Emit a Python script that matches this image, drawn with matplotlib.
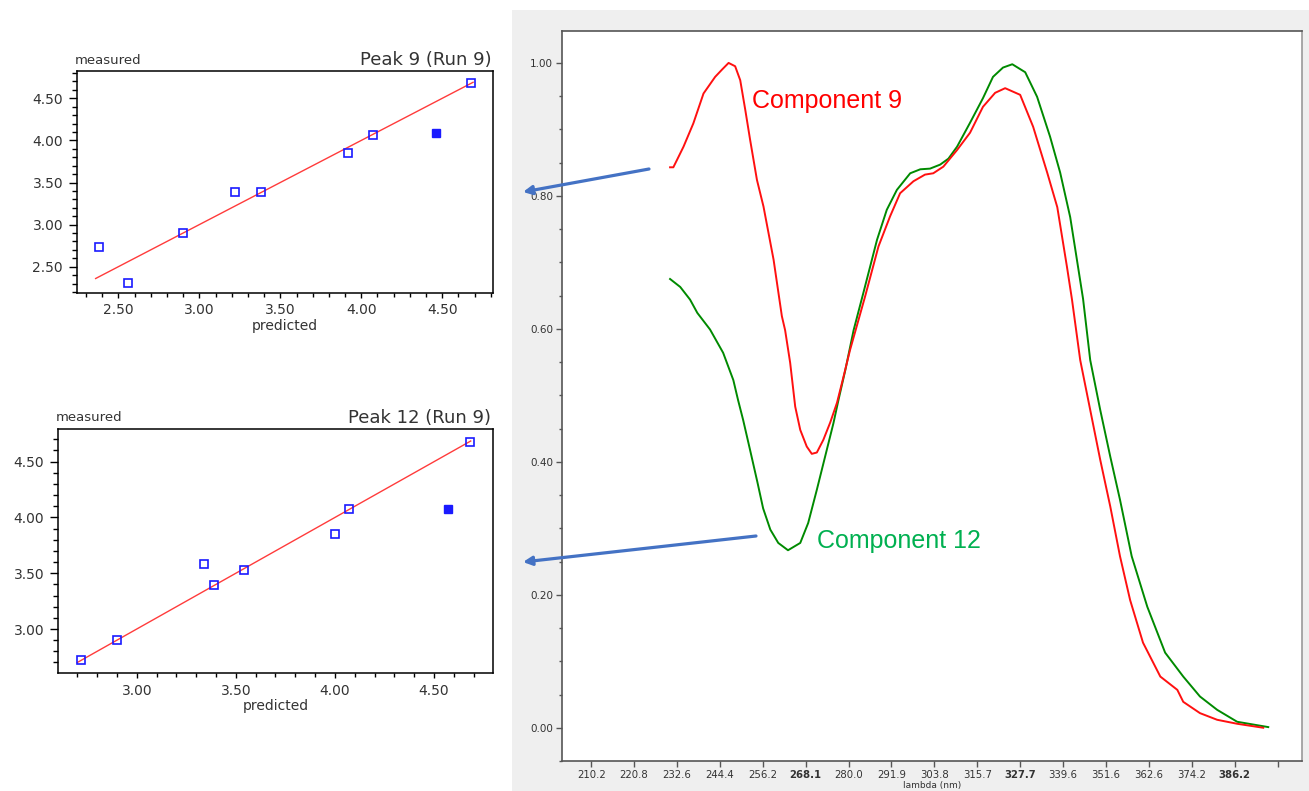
import numpy as np
import matplotlib
matplotlib.use('Agg')
import matplotlib.pyplot as plt
from matplotlib.patches import Rectangle
from matplotlib.ticker import MultipleLocator, FormatStrFormatter

# --- data -------------------------------------------------------------
# Peak 9 (Run 9): predicted vs measured
peak9_pred = [2.38, 2.56, 2.90, 3.22, 3.38, 3.92, 4.07, 4.68]
peak9_meas = [2.73, 2.31, 2.90, 3.39, 3.39, 3.85, 4.07, 4.68]
peak9_excl = [4.46, 4.09]          # excluded run (filled square)
peak9_line = [2.36, 4.69]          # y = x line

# Peak 12 (Run 9)
peak12_pred = [2.72, 2.90, 3.34, 3.39, 3.54, 4.00, 4.07, 4.68]
peak12_meas = [2.72, 2.90, 3.58, 3.39, 3.53, 3.85, 4.08, 4.68]
peak12_excl = [4.57, 4.08]
peak12_line = [2.70, 4.685]

# UV spectra, lambda (nm) vs normalised absorbance
comp9_wl = [230.7, 231.6, 232.6, 234.4, 237.1, 239.9, 243.1, 245.0, 246.8, 248.6,
            250.0, 251.4, 252.7, 254.6, 256.4, 259.2, 261.5, 262.4, 263.8, 265.2,
            266.6, 268.4, 269.8, 271.2, 273.0, 274.9, 276.8, 278.6, 280.4, 284.6,
            288.3, 291.5, 294.3, 298.0, 301.2, 303.5, 306.3, 310.1, 313.7, 317.3,
            320.7, 323.5, 327.7, 331.3, 335.2, 338.0, 340.7, 342.1, 344.4, 347.2,
            350.0, 352.7, 355.2, 357.8, 361.1, 365.7, 370.3, 371.9, 376.5, 381.3,
            386.9, 394.2]
comp9_abs = [0.843, 0.843, 0.854, 0.874, 0.909, 0.954, 0.979, 0.990, 1.000, 0.995,
             0.974, 0.929, 0.885, 0.824, 0.784, 0.704, 0.619, 0.598, 0.549, 0.483,
             0.448, 0.423, 0.412, 0.414, 0.433, 0.459, 0.489, 0.528, 0.568, 0.649,
             0.724, 0.769, 0.804, 0.822, 0.832, 0.834, 0.844, 0.869, 0.895, 0.934,
             0.955, 0.962, 0.952, 0.904, 0.835, 0.783, 0.693, 0.644, 0.553, 0.478,
             0.403, 0.333, 0.258, 0.192, 0.128, 0.077, 0.057, 0.039, 0.022, 0.012,
             0.006, 0.000]

comp12_wl = [230.7, 233.5, 236.2, 238.2, 241.7, 245.3, 248.1, 249.4, 250.8, 252.7,
             254.7, 256.3, 258.3, 260.5, 263.2, 266.6, 268.8, 271.2, 273.5, 275.8,
             277.2, 279.1, 281.4, 284.1, 287.9, 290.6, 293.4, 297.1, 299.9, 302.6,
             305.4, 307.7, 310.1, 313.7, 317.3, 320.1, 322.9, 325.5, 329.1, 332.4,
             336.0, 338.8, 341.6, 343.3, 345.2, 347.2, 350.0, 352.7, 355.2, 358.2,
             362.2, 367.0, 371.9, 376.5, 381.3, 386.9, 395.6]
comp12_abs = [0.675, 0.663, 0.644, 0.624, 0.599, 0.564, 0.523, 0.493, 0.463, 0.418,
              0.370, 0.330, 0.298, 0.278, 0.267, 0.278, 0.308, 0.358, 0.408, 0.458,
              0.493, 0.538, 0.598, 0.654, 0.734, 0.779, 0.809, 0.834, 0.840, 0.841,
              0.847, 0.856, 0.874, 0.910, 0.947, 0.979, 0.993, 0.998, 0.986, 0.949,
              0.889, 0.835, 0.768, 0.710, 0.645, 0.553, 0.478, 0.408, 0.343, 0.258,
              0.182, 0.113, 0.077, 0.047, 0.027, 0.009, 0.001]

# tick labels of the wavelength axis (evenly spaced on screen)
lambda_ticks = [210.2, 220.8, 232.6, 244.4, 256.2, 268.1, 280.0, 291.9, 303.8,
                315.7, 327.7, 339.6, 351.6, 362.6, 374.2, 386.2]
bold_ticks = [268.1, 327.7, 386.2]

W, H = 1309, 791
fig = plt.figure(figsize=(W / 100, H / 100), dpi=100, facecolor='white')
plt.rcParams['font.family'] = ['DejaVu Sans']

txt_col = '#333333'
blue = '#1a1aff'


def scatter_panel(rect, pred, meas, excl, line, title, xlim, ylim):
    ax = fig.add_axes(rect)
    ax.plot(line, line, color='#ff3b3b', lw=1.0, zorder=2)
    ax.plot(pred, meas, 's', ms=6.3, mfc='none', mec=blue, mew=1.2, zorder=3)
    ax.plot(excl[0], excl[1], 's', ms=6.3, mfc=blue, mec=blue, zorder=3)
    ax.set_xlim(xlim)
    ax.set_ylim(ylim)
    ax.xaxis.set_major_locator(MultipleLocator(0.5))
    ax.xaxis.set_minor_locator(MultipleLocator(0.1))
    ax.yaxis.set_major_locator(MultipleLocator(0.5))
    ax.yaxis.set_minor_locator(MultipleLocator(0.1))
    ax.xaxis.set_major_formatter(FormatStrFormatter('%.2f'))
    ax.yaxis.set_major_formatter(FormatStrFormatter('%.2f'))
    ax.tick_params(axis='y', which='major', length=6, width=1, pad=4, labelsize=10,
                   labelcolor=txt_col)
    ax.tick_params(axis='y', which='minor', length=3.5, width=1)
    ax.tick_params(axis='x', which='major', length=3.5, width=1, pad=4, labelsize=10,
                   labelcolor=txt_col)
    ax.tick_params(axis='x', which='minor', length=3, width=1)
    for s in ax.spines.values():
        s.set_linewidth(1.1)
    ax.text(-0.005, 1.02, 'measured', transform=ax.transAxes, ha='left', va='bottom',
            fontsize=9.5, color=txt_col)
    ax.text(0.997, 1.01, title, transform=ax.transAxes, ha='right', va='bottom',
            fontsize=13, color=txt_col)
    ax.set_xlabel('predicted', fontsize=10, color=txt_col, labelpad=1)
    return ax


scatter_panel([77 / W, 1 - 293 / H, 416 / W, 222 / H],
              peak9_pred, peak9_meas, peak9_excl, peak9_line,
              'Peak 9 (Run 9)', (2.245, 4.813), (2.188, 4.824))
scatter_panel([58.3 / W, 1 - 673.3 / H, 434.4 / W, 244 / H],
              peak12_pred, peak12_meas, peak12_excl, peak12_line,
              'Peak 12 (Run 9)', (2.604, 4.796), (2.603, 4.790))

# grey window behind the spectrum chart
fig.add_artist(Rectangle((512 / W, 0), 1 - 512 / W, 1 - 10 / H,
                         transform=fig.transFigure, facecolor='#efefef',
                         edgecolor='none', zorder=0))

ax = fig.add_axes([562 / W, 1 - 761 / H, 740 / W, 730 / H])
ax.set_facecolor('white')

# wavelength axis: tick labels evenly spaced -> piecewise linear scale
k = np.array(lambda_ticks)
pos = np.arange(len(k), dtype=float)
k_ext = np.r_[k[0] - 50 * (k[1] - k[0]), k, k[-1] + 50 * (k[-1] - k[-2])]
p_ext = np.r_[-50.0, pos, pos[-1] + 50.0]


def fwd(w):
    return np.interp(w, k_ext, p_ext)


def inv(q):
    return np.interp(q, p_ext, k_ext)


ax.set_xscale('function', functions=(fwd, inv))

ax.plot(comp12_wl, comp12_abs, color='#008a00', lw=1.4)
ax.plot(comp9_wl, comp9_abs, color='#ff1010', lw=1.4)

extra_tick = k[-1] + (k[-1] - k[-2])
ax.set_xlim(inv(-0.68), inv(16.57))
ax.set_ylim(-0.05, 1.048)
ax.set_xticks(list(lambda_ticks) + [extra_tick])
ax.set_xticklabels(['%.1f' % t for t in lambda_ticks] + [''])
for lab, t in zip(ax.get_xticklabels(), lambda_ticks):
    if t in bold_ticks:
        lab.set_fontweight('bold')
ax.xaxis.set_minor_locator(plt.NullLocator())
ax.yaxis.set_major_locator(MultipleLocator(0.2))
ax.yaxis.set_minor_locator(MultipleLocator(0.05))
ax.yaxis.set_major_formatter(FormatStrFormatter('%.2f'))
ax.tick_params(axis='x', which='major', length=4.3, width=1, pad=2.5, labelsize=7.3,
               labelcolor=txt_col, color='#555555')
ax.tick_params(axis='y', which='major', length=4, width=1, pad=2.5, labelsize=7.5,
               labelcolor=txt_col, color='#555555')
ax.tick_params(axis='y', which='minor', length=2.4, width=1, color='#555555')
for name, s in ax.spines.items():
    s.set_color('#555555')
    s.set_linewidth(1.2)
ax.spines['right'].set_color('#999999')
ax.set_xlabel('lambda (nm)', fontsize=6.5, color=txt_col, labelpad=0.5)

fig.text(752 / W, 1 - 101 / H, 'Component 9', color='#ff0000', fontsize=18,
         family='Liberation Sans', ha='left', va='center')
fig.text(817 / W, 1 - 541 / H, 'Component 12', color='#00b050', fontsize=18,
         family='Liberation Sans', ha='left', va='center')

arrow_style = dict(arrowstyle='-|>', color='#4472c4', lw=2.3, mutation_scale=13,
                   shrinkA=0, shrinkB=0)
ax.annotate('', xy=(523 / W, 1 - 192 / H), xytext=(649 / W, 1 - 169 / H),
            xycoords='figure fraction', textcoords='figure fraction',
            arrowprops=arrow_style, annotation_clip=False)
ax.annotate('', xy=(523 / W, 1 - 562 / H), xytext=(756 / W, 1 - 536 / H),
            xycoords='figure fraction', textcoords='figure fraction',
            arrowprops=arrow_style, annotation_clip=False)

fig.savefig('out.png', dpi=100, facecolor='white')
